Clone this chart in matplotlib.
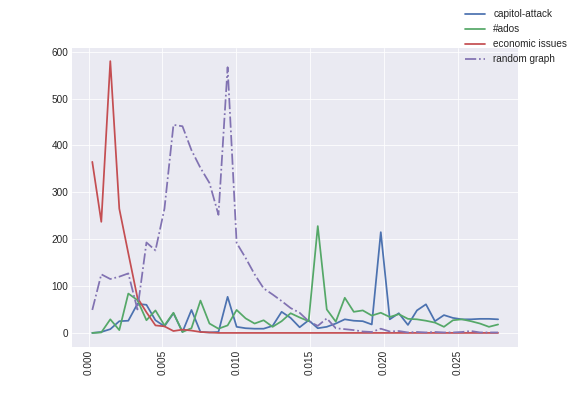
import matplotlib
matplotlib.use("Agg")
import matplotlib.pyplot as plt

# x positions of the samples
x_vals = [0.00025, 0.00086, 0.00147, 0.00208, 0.00269, 0.00331, 0.00392, 0.00453,
          0.00514, 0.00575, 0.00636, 0.00697, 0.00758, 0.00819, 0.00880, 0.00942,
          0.01003, 0.01064, 0.01125, 0.01186, 0.01247, 0.01308, 0.01369, 0.01430,
          0.01491, 0.01553, 0.01614, 0.01675, 0.01736, 0.01797, 0.01858, 0.01919,
          0.01980, 0.02041, 0.02102, 0.02164, 0.02225, 0.02286, 0.02347, 0.02408,
          0.02469, 0.02530, 0.02591, 0.02652, 0.02713, 0.02775]

capitol = [0, 2, 8, 25, 26, 62, 60, 27, 14, 42, 2, 49, 2, 1, 2, 77,
           13, 10, 9, 9, 15, 45, 32, 12, 27, 10, 13, 20, 29, 26, 25, 18,
           215, 29, 42, 17, 48, 61, 25, 38, 32, 29, 29, 30, 30, 29]

ados = [0, 1, 29, 6, 84, 70, 27, 48, 16, 43, 2, 10, 69, 20, 9, 16,
        49, 31, 20, 27, 13, 25, 42, 33, 25, 228, 50, 24, 75, 45, 48, 37,
        43, 34, 40, 30, 29, 26, 22, 13, 27, 29, 25, 20, 13, 18]

economic = [365, 237, 580, 265, 170, 75, 44, 16, 14, 4, 7, 5, 2, 1, 0, 0,
            0, 0, 0, 0, 0, 0, 0, 0, 0, 0, 0, 0, 0, 0, 0, 0,
            0, 0, 0, 0, 0, 0, 0, 0, 0, 0, 0, 0, 0, 0]

random_graph = [49, 125, 115, 120, 127, 50, 193, 176, 265, 444, 441, 390, 352, 320, 252, 567,
                192, 160, 125, 95, 82, 68, 53, 43, 25, 15, 31, 10, 8, 6, 3, 2,
                9, 3, 4, 1, 2, 1, 2, 1, 1, 2, 4, 1, 1, 1]

plt.style.use('seaborn-v0_8-darkgrid')
plt.rcParams['font.family'] = 'sans-serif'
plt.rcParams['font.sans-serif'] = ['Liberation Sans', 'DejaVu Sans']
plt.rcParams['lines.linewidth'] = 1.75

fig = plt.figure(figsize=(8, 5.5), dpi=72)
ax = fig.add_subplot(111)
fig.subplots_adjust(left=0.125, right=0.9, top=0.88, bottom=0.125)

ax.plot(x_vals, capitol, color='#4C72B0', label='capitol-attack')
ax.plot(x_vals, ados, color='#55A868', label='#ados')
ax.plot(x_vals, economic, color='#C44E52', label='economic issues')
ax.plot(x_vals, random_graph, color='#8172B2', linestyle='-.', label='random graph')

ax.set_xticks([0.0, 0.005, 0.010, 0.015, 0.020, 0.025])
ax.set_xticklabels(['0.000', '0.005', '0.010', '0.015', '0.020', '0.025'], rotation=90)

fig.legend(loc='upper right')

plt.savefig('out.png', dpi=72)
